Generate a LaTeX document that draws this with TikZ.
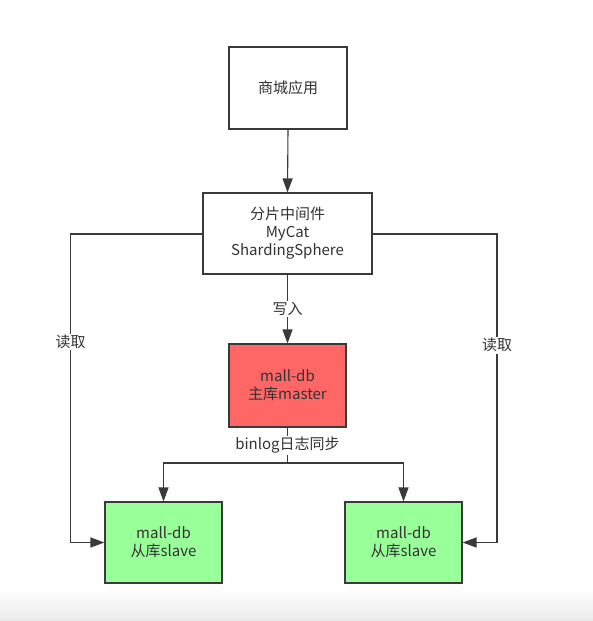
\documentclass[tikz,border=0pt]{standalone}
\usepackage{fontspec}
\setmainfont{Noto Sans CJK SC}
\usetikzlibrary{arrows.meta,positioning}
\definecolor{linegray}{HTML}{3A3A3A}
\definecolor{textgray}{HTML}{333333}
\definecolor{masterred}{HTML}{FF6666}
\definecolor{slavegreen}{HTML}{99FF99}
\begin{document}
\begin{tikzpicture}[x=1pt,y=-1pt,
  box/.style={draw=linegray,line width=1.1pt,fill=white,text=textgray,
    font=\fontsize{15}{18}\selectfont,align=center,inner sep=0pt},
  conn/.style={draw=linegray,line width=1.1pt},
  arr/.style={conn,-{Triangle[length=14pt,width=10pt]}},
  lbl/.style={fill=white,text=textgray,font=\fontsize{15}{18}\selectfont,inner sep=1.5pt}]
  \useasboundingbox (0,0) rectangle (593,621);
  \fill[white] (0,0) rectangle (593,621);
  \shade[top color=white,bottom color=black!8] (0,588) rectangle (593,621);

  % boxes
  \node[box,minimum width=118pt,minimum height=82pt] (app) at (288,88) {商城应用};
  \node[box,minimum width=169pt,minimum height=81pt] (mid) at (287.5,233.5) {分片中间件\\MyCat\\ShardingSphere};
  \node[box,fill=masterred,minimum width=117pt,minimum height=83pt] (master) at (287.5,385.5) {mall-db\\主库master};
  \node[box,fill=slavegreen,minimum width=117pt,minimum height=81pt] (s1) at (163.5,542.5) {mall-db\\从库slave};
  \node[box,fill=slavegreen,minimum width=117pt,minimum height=81pt] (s2) at (403.5,542.5) {mall-db\\从库slave};

  % routing points
  \coordinate (lt) at (70.5,234);
  \coordinate (lb) at (70.5,542.5);
  \coordinate (rt) at (497,234);
  \coordinate (rb) at (497,542.5);
  \coordinate (bj) at (287.5,463);
  \coordinate (bl) at (163.5,463);
  \coordinate (br) at (403.5,463);

  % app to middleware
  \draw[arr] (app.south) -- (mid.north);
  % write path
  \draw[arr] (mid.south) -- node[lbl,pos=0.5] {写入} (master.north);
  % read paths
  \draw[arr] (mid.west |- lt) -- (lt) -- node[lbl,pos=0.35] {读取} (lb) -- (s1.west |- lb);
  \draw[arr] (mid.east |- rt) -- (rt) -- node[lbl,pos=0.36] {读取} (rb) -- (s2.east |- rb);
  % binlog replication
  \draw[conn] (master.south) -- node[lbl,pos=0.5] {binlog日志同步} (bj);
  \draw[arr] (bj) -- (bl) -- (s1.north);
  \draw[arr] (bj) -- (br) -- (s2.north);
\end{tikzpicture}
\end{document}
